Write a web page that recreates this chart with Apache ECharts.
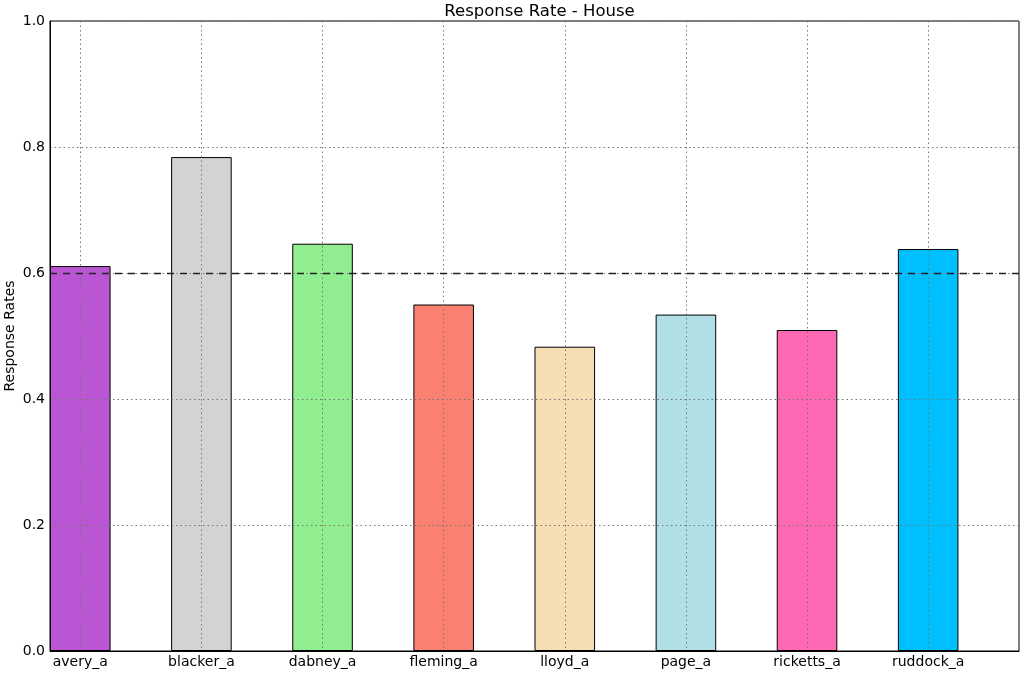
<!DOCTYPE html>
<html>
<head>
<meta charset="utf-8">
<script src="https://cdn.jsdelivr.net/npm/echarts@6/dist/echarts.min.js"></script>
<style>
html,body{margin:0;padding:0;background:#fff;}
#chart{width:1021px;height:675px;}
</style>
</head>
<body>
<div id="chart"></div>
<script>
const categories = ['avery_a','blacker_a','dabney_a','fleming_a','lloyd_a','page_a','ricketts_a','ruddock_a'];
const rates = [0.611, 0.784, 0.6465, 0.550, 0.483, 0.534, 0.5095, 0.638];
const barColors = ['#BA55D3','#D3D3D3','#90EE90','#FA8072','#F5DEB3','#B0E0E6','#FF69B4','#00BFFF'];
const yTicks = [0, 0.2, 0.4, 0.6, 0.8, 1.0];
const targetRate = 0.6;

const FONT = 'DejaVu Sans';
const W = 1021;
const gridLeft = 50, gridRight = 2, gridTop = 21, gridBottom = 24;
const xMin = -0.25, xMax = categories.length - 0.25;
const unitPx = (W - gridLeft - gridRight) / (xMax - xMin);
const idx = categories.map((c, i) => i);

const chart = echarts.init(document.getElementById('chart'));
chart.setOption({
  animation: false,
  backgroundColor: '#fff',
  title: {
    text: 'Response Rate - House',
    left: (gridLeft + W - gridRight) / 2, textAlign: 'center', top: -2,
    textStyle: { fontFamily: FONT, fontSize: 16.5, fontWeight: 'normal', color: '#000' }
  },
  grid: {
    left: gridLeft, right: gridRight, top: gridTop, bottom: gridBottom,
    containLabel: false, outerBoundsMode: 'none',
    show: true, borderColor: '#000', borderWidth: 1, backgroundColor: 'transparent'
  },
  xAxis: {
    type: 'value', min: xMin, max: xMax, z: 5,
    axisLine: { show: true, onZero: false, lineStyle: { color: '#000' } },
    axisTick: { show: false, customValues: idx },
    axisLabel: {
      customValues: idx, fontFamily: FONT, fontSize: 14, color: '#000', margin: 4,
      formatter: v => categories[Math.round(v)] || ''
    },
    splitLine: { show: true, lineStyle: { color: '#777', type: [1.5, 3], width: 1 } }
  },
  yAxis: {
    type: 'value', min: yTicks[0], max: yTicks[yTicks.length - 1], interval: 0.2, z: 5,
    name: 'Response Rates', nameLocation: 'middle', nameGap: 33, nameMoveOverlap: false,
    nameTextStyle: { fontFamily: FONT, fontSize: 14, color: '#000' },
    axisLine: { show: true, onZero: false, lineStyle: { color: '#000' } },
    axisTick: { show: false },
    axisLabel: { fontFamily: FONT, fontSize: 14, color: '#000', margin: 5,
      formatter: v => v.toFixed(1) },
    splitLine: { show: true, lineStyle: { color: '#777', type: [1.5, 3], width: 1 } }
  },
  series: [{
    type: 'bar',
    barWidth: unitPx * 0.5,
    data: rates.map((v, i) => ({ value: [i, v], itemStyle: { color: barColors[i], borderColor: '#000', borderWidth: 1 } })),
    markLine: {
      silent: true, symbol: 'none', z: 6,
      label: { show: false },
      lineStyle: { color: '#222', type: [7, 6], width: 1.3 },
      data: [{ yAxis: targetRate }]
    }
  }]
});
</script>
</body>
</html>
